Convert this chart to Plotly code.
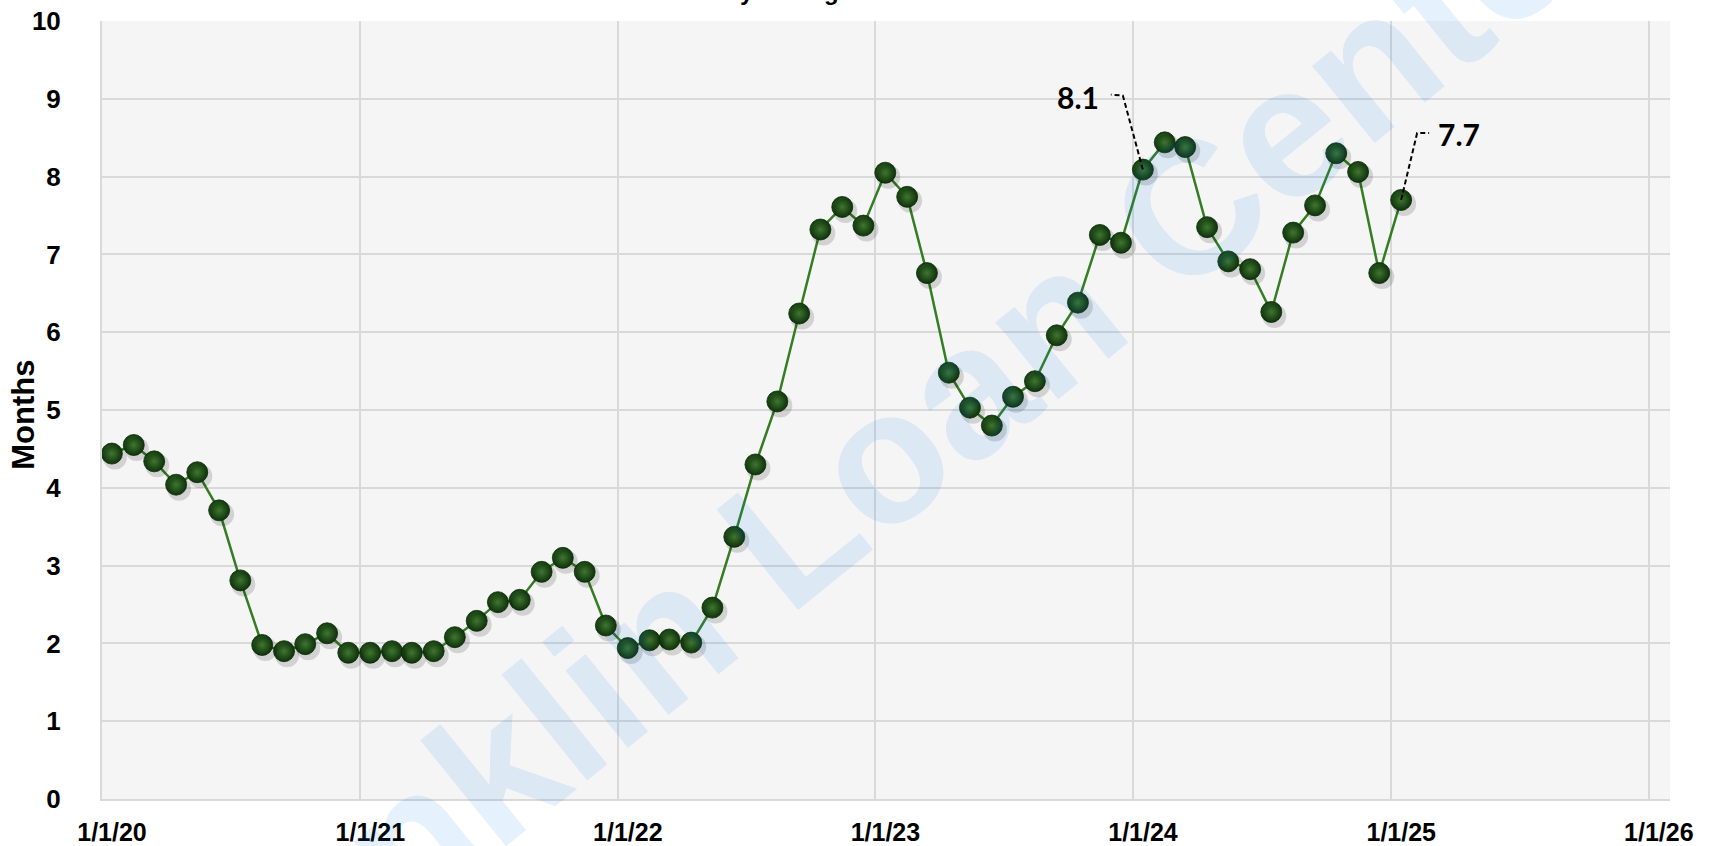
import pandas as pd
import plotly.graph_objects as go

# ---- data -------------------------------------------------------------
start_month = "2020-01-01"
n_months = 61
months_supply = [
    4.44, 4.55, 4.34, 4.04, 4.20, 3.71, 2.81, 1.98, 1.90, 1.99, 2.13, 1.88,
    1.88, 1.90, 1.88, 1.90, 2.08, 2.29, 2.53, 2.56, 2.92, 3.10, 2.92, 2.23,
    1.94, 2.04, 2.05, 2.01, 2.46, 3.37, 4.30, 5.11, 6.24, 7.32, 7.61, 7.37,
    8.05, 7.74, 6.76, 5.48, 5.03, 4.80, 5.17, 5.37, 5.96, 6.38, 7.25, 7.15,
    8.09, 8.44, 8.38, 7.35, 6.91, 6.81, 6.26, 7.28, 7.63, 8.30, 8.06, 6.76,
    7.70,
]
dates = pd.date_range(start_month, periods=n_months, freq="MS") + pd.Timedelta(days=14)

tick_dates = ["2020-01-01", "2021-01-01", "2022-01-01", "2023-01-01",
              "2024-01-01", "2025-01-01", "2026-01-01"]
tick_labels = ["1/1/20", "1/1/21", "1/1/22", "1/1/23", "1/1/24", "1/1/25", "1/1/26"]
y_ticks = list(range(0, 11))

label_points = [48, 60]          # indices of labelled points (8.1 and 7.7)
label_texts = ["8.1", "7.7"]

y_title = "Months"
title_text = "Months of Inventory Listings"
watermark_text = "Franklin Loan Center"

# ---- figure -----------------------------------------------------------
x_range = ["2020-01-01", "2026-01-31"]
y_range = [0, 10]

fig = go.Figure()

# soft shadow under markers (overlay axes shifted by a few pixels)
plot_w, plot_h = 1568, 778
xr = [pd.Timestamp(v) for v in x_range]
span = xr[1] - xr[0]
dx = span * (3.0 / plot_w)
dy = (y_range[1] - y_range[0]) * (4.0 / plot_h)

fig.add_trace(go.Scatter(
    x=dates, y=months_supply, mode="markers", xaxis="x2", yaxis="y2",
    marker=dict(size=24, color="rgba(0,0,0,0.14)", line=dict(width=0)),
    hoverinfo="skip", showlegend=False,
))

fig.add_trace(go.Scatter(
    x=dates, y=months_supply, mode="lines+markers",
    line=dict(color="#347d22", width=2.5),
    marker=dict(size=21, color="#113a0d",
                gradient=dict(type="radial", color="#4a8a38"),
                line=dict(width=0.8, color="#0c2d0a")),
    showlegend=False,
))

font_main = "Liberation Sans, Arial, sans-serif"

fig.update_layout(
    width=1711, height=846,
    margin=dict(l=102, r=41, t=21, b=47, autoexpand=False),
    paper_bgcolor="white",
    plot_bgcolor="#f5f5f5",
    font=dict(family=font_main, color="black"),
    xaxis=dict(
        type="date", range=x_range, automargin=False,
        tickmode="array", tickvals=tick_dates, ticktext=tick_labels,
        showgrid=True, gridcolor="#d9d9d9", gridwidth=1.5,
        showline=True, linecolor="#d9d9d9", linewidth=2,
        ticks="", tickfont=dict(size=25, family=font_main, weight="bold"),
        ticklabelstandoff=10, ticklabelshift=10,
        zeroline=False,
    ),
    yaxis=dict(
        range=y_range, tickmode="array", tickvals=y_ticks, automargin=False,
        showgrid=True, gridcolor="#d9d9d9", gridwidth=1.5,
        showline=True, linecolor="#d9d9d9", linewidth=2,
        ticks="", tickfont=dict(size=26, family=font_main, weight="bold"),
        ticklabelstandoff=34,
        zeroline=False,
    ),
    xaxis2=dict(type="date", range=[xr[0] - dx, xr[1] - dx], overlaying="x",
                visible=False, automargin=False),
    yaxis2=dict(range=[y_range[0] + dy, y_range[1] + dy], overlaying="y",
                visible=False, automargin=False),
)

# y-axis title
fig.add_annotation(
    xref="paper", yref="paper", x=-0.0497, y=0.494, text=y_title,
    showarrow=False, textangle=-90, xanchor="center", yanchor="middle",
    font=dict(size=31, family=font_main, weight="bold", color="black"),
)

# dashed leader lines and labels
leader_paths = {
    "8.1": ("M 0 0 L -20 74 L -32 75", -65, -73),
    "7.7": ("M 0 0 L 16 67 L 28 67", 58, -66),
}
for idx, txt in zip(label_points, label_texts):
    path, ax, ay = leader_paths[txt]
    fig.add_shape(
        type="path", xref="x", yref="y",
        xsizemode="pixel", ysizemode="pixel",
        xanchor=dates[idx], yanchor=months_supply[idx],
        path=path, line=dict(color="black", width=2, dash="5px,3px"),
        layer="above",
    )
    fig.add_annotation(
        x=dates[idx], y=months_supply[idx], text=txt,
        showarrow=True, arrowcolor="rgba(0,0,0,0)", arrowwidth=0.1,
        ax=ax, ay=ay,
        font=dict(size=30, family="Lato, Liberation Sans, sans-serif",
                  weight="bold", color="black"),
    )

# title (cut off at the top in the reference)
fig.add_annotation(
    xref="paper", yref="paper", x=0.268, y=1.0, yshift=14,
    xanchor="left", yanchor="bottom", text=title_text, showarrow=False,
    font=dict(size=24, family=font_main, weight="bold", color="black"),
)

# watermark
fig.add_annotation(
    xref="paper", yref="paper", x=0.489, y=0.424, text=watermark_text,
    showarrow=False, textangle=-39,
    font=dict(size=188, family=font_main, weight="bold",
              color="rgba(0,120,230,0.10)"),
)

fig.write_html(
    "out.html",
    config={"displayModeBar": False},
    post_script="document.body.style.margin='0';document.body.style.overflow='hidden';",
)
